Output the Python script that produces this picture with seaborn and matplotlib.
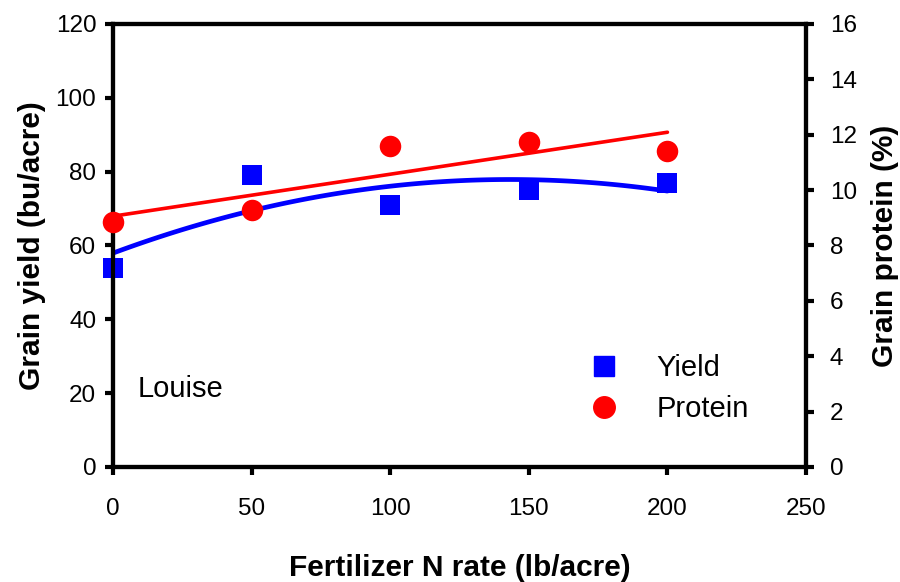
import matplotlib
matplotlib.use("Agg")
import matplotlib.pyplot as plt
import seaborn as sns
import pandas as pd
from matplotlib.lines import Line2D

sns.set_style("white")
plt.rcParams["font.family"] = ["Liberation Sans", "DejaVu Sans"]
plt.rcParams["text.color"] = "black"
plt.rcParams["axes.labelcolor"] = "black"

n_rate = [0, 50, 100, 150, 200]
grain_yield = [54, 79, 71, 75, 77]
grain_protein = [8.85, 9.28, 11.59, 11.74, 11.41]

df = pd.DataFrame({"n_rate": n_rate, "yield": grain_yield, "protein": grain_protein})

fig = plt.figure(figsize=(9, 5.82), dpi=100)
ax = fig.add_axes([0.1256, 0.1976, 0.77, 0.7612])
ax2 = ax.twinx()

sns.regplot(data=df, x="n_rate", y="yield", order=2, ci=None, ax=ax,
            marker="s", color="#0000FF",
            scatter_kws={"s": 215, "linewidths": 0, "zorder": 3, "alpha": 1,
                         "clip_on": False},
            line_kws={"lw": 3.4, "zorder": 2})
sns.regplot(data=df, x="n_rate", y="protein", order=1, ci=None, ax=ax2,
            marker="o", color="#FF0000",
            scatter_kws={"s": 240, "linewidths": 0, "zorder": 3, "alpha": 1,
                         "clip_on": False},
            line_kws={"lw": 2.6, "zorder": 2})

ax.set_xlim(0, 250)
ax.set_ylim(0, 120)
ax2.set_ylim(0, 16)
ax.set_xticks(range(0, 251, 50))
ax.set_yticks(range(0, 121, 20))
ax2.set_yticks(range(0, 17, 2))

for a in (ax, ax2):
    for s in a.spines.values():
        s.set_linewidth(3)
        s.set_color("black")
    a.tick_params(width=3, length=6, labelsize=17.5, colors="black", direction="out")
ax.tick_params(axis="x", bottom=True, pad=16)
ax.tick_params(axis="y", left=True, pad=6)
ax2.tick_params(axis="y", right=True, pad=11)

ax.set_xlabel("Fertilizer N rate (lb/acre)", fontsize=21.5, fontweight="bold",
              labelpad=25)
ax.set_ylabel("Grain yield (bu/acre)", fontsize=21.5, fontweight="bold", labelpad=7)
ax2.set_ylabel("Grain protein (%)", fontsize=21.5, fontweight="bold", labelpad=10)

ax.text(9, 21, "Louise", fontsize=21, va="center", ha="left")

handles = [
    Line2D([], [], ls="none", marker="s", color="#0000FF", markersize=14),
    Line2D([], [], ls="none", marker="o", color="#FF0000", markersize=15.5),
]
ax2.legend(handles, ["Yield", "Protein"], loc="lower left",
           bbox_to_anchor=(0.628, 0.04), frameon=False, fontsize=21,
           handletextpad=0.8, labelspacing=0.45)

fig.savefig("out.png", dpi=100)
